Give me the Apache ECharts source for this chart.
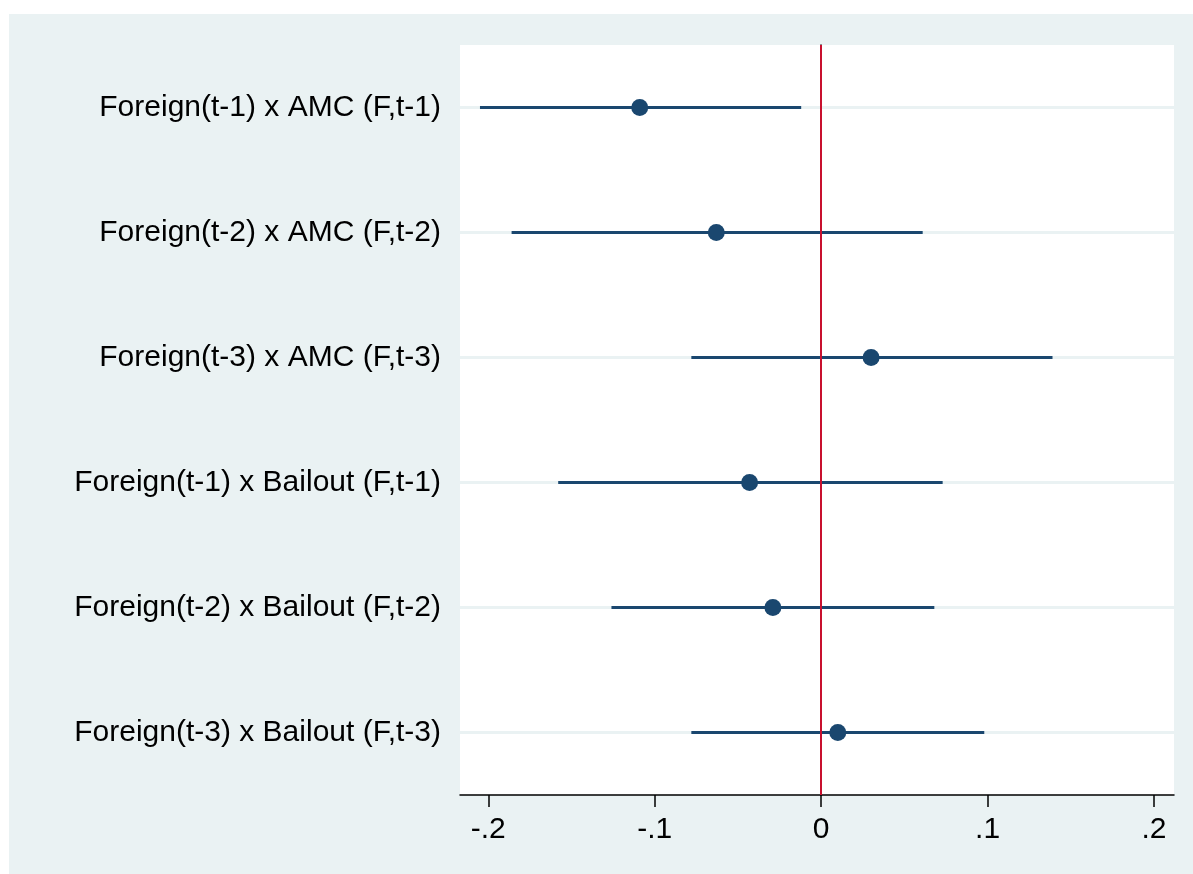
<!DOCTYPE html>
<html>
<head>
<meta charset="utf-8">
<script src="https://cdn.jsdelivr.net/npm/echarts@6/dist/echarts.min.js"></script>
<style>
  html, body { margin: 0; padding: 0; background: #ffffff; }
  #chartContainer { width: 1193px; height: 874px; }
</style>
</head>
<body>
<div id="chartContainer"></div>
<script>
// coefficient labels, top to bottom
const terms = [
    'Foreign(t-1) x AMC (F,t-1)',
    'Foreign(t-2) x AMC (F,t-2)',
    'Foreign(t-3) x AMC (F,t-3)',
    'Foreign(t-1) x Bailout (F,t-1)',
    'Foreign(t-2) x Bailout (F,t-2)',
    'Foreign(t-3) x Bailout (F,t-3)'
];
const estimates = [-0.109, -0.063, 0.030, -0.043, -0.029, 0.010];
const ciLower = [-0.205, -0.186, -0.078, -0.158, -0.126, -0.078];
const ciUpper = [-0.012, 0.061, 0.139, 0.073, 0.068, 0.098];
const xTicks = [-0.2, -0.1, 0, 0.1, 0.2];

const xMin = -0.217;
const xMax = 0.212;
const navy = '#1a476f';

function fmtTick(v) {
    if (v === 0) return '0';
    const s = String(Math.abs(Math.round(v * 1000) / 1000)).replace(/^0/, '');
    return (v < 0 ? '-' : '') + s;
}

const myChart = echarts.init(document.getElementById('chartContainer'));

const option = {
    backgroundColor: '#ffffff',
    animation: false,
    graphic: [{
        type: 'rect',
        z: -10,
        shape: { x: 9, y: 14, width: 1184, height: 860 },
        style: { fill: '#eaf2f3' }
    }],
    grid: {
        left: 460, right: 19, top: 45, bottom: 79,
        show: true, backgroundColor: '#ffffff', borderWidth: 0
    },
    xAxis: {
        type: 'value',
        min: xMin,
        max: xMax,
        axisLine: { show: true, onZero: false, lineStyle: { color: '#000000', width: 1.5 } },
        axisTick: { show: true, length: 12, customValues: xTicks, lineStyle: { color: '#000000', width: 1.5 } },
        axisLabel: {
            customValues: xTicks,
            formatter: fmtTick,
            color: '#000000',
            fontFamily: 'Liberation Sans, Arial, sans-serif',
            fontSize: 30,
            margin: 20
        },
        splitLine: { show: false }
    },
    yAxis: {
        type: 'category',
        data: terms,
        inverse: true,
        axisLine: { show: true, lineStyle: { color: '#000000', width: 1.5 } },
        axisTick: { show: true, alignWithLabel: true, length: 12, lineStyle: { color: '#000000', width: 1.5 } },
        axisLabel: {
            color: '#000000',
            fontFamily: 'Liberation Sans, Arial, sans-serif',
            fontSize: 30,
            margin: 19
        },
        splitLine: { show: false }
    },
    series: [
        {
            // light horizontal gridlines at each coefficient
            type: 'custom',
            silent: true,
            z: 1,
            data: terms.map((t, i) => [i]),
            renderItem: function (params, api) {
                const idx = api.value(0);
                const a = api.coord([xMin, idx]);
                const b = api.coord([xMax, idx]);
                return {
                    type: 'line',
                    shape: { x1: a[0], y1: a[1], x2: b[0], y2: b[1] },
                    style: { stroke: '#eaf2f3', lineWidth: 3 }
                };
            }
        },
        {
            // confidence intervals
            type: 'custom',
            silent: true,
            z: 3,
            data: terms.map((t, i) => [i, ciLower[i], ciUpper[i]]),
            renderItem: function (params, api) {
                const idx = api.value(0);
                const a = api.coord([api.value(1), idx]);
                const b = api.coord([api.value(2), idx]);
                return {
                    type: 'line',
                    shape: { x1: a[0], y1: a[1], x2: b[0], y2: b[1] },
                    style: { stroke: navy, lineWidth: 3 }
                };
            },
            markLine: {
                silent: true,
                symbol: 'none',
                label: { show: false },
                lineStyle: { color: '#c8102e', width: 2, type: 'solid' },
                data: [{ xAxis: 0 }]
            }
        },
        {
            type: 'scatter',
            z: 5,
            symbol: 'circle',
            symbolSize: 17,
            itemStyle: { color: navy, opacity: 1 },
            data: estimates.map((v, i) => [v, terms[i]])
        }
    ]
};

myChart.setOption(option);
</script>
</body>
</html>
